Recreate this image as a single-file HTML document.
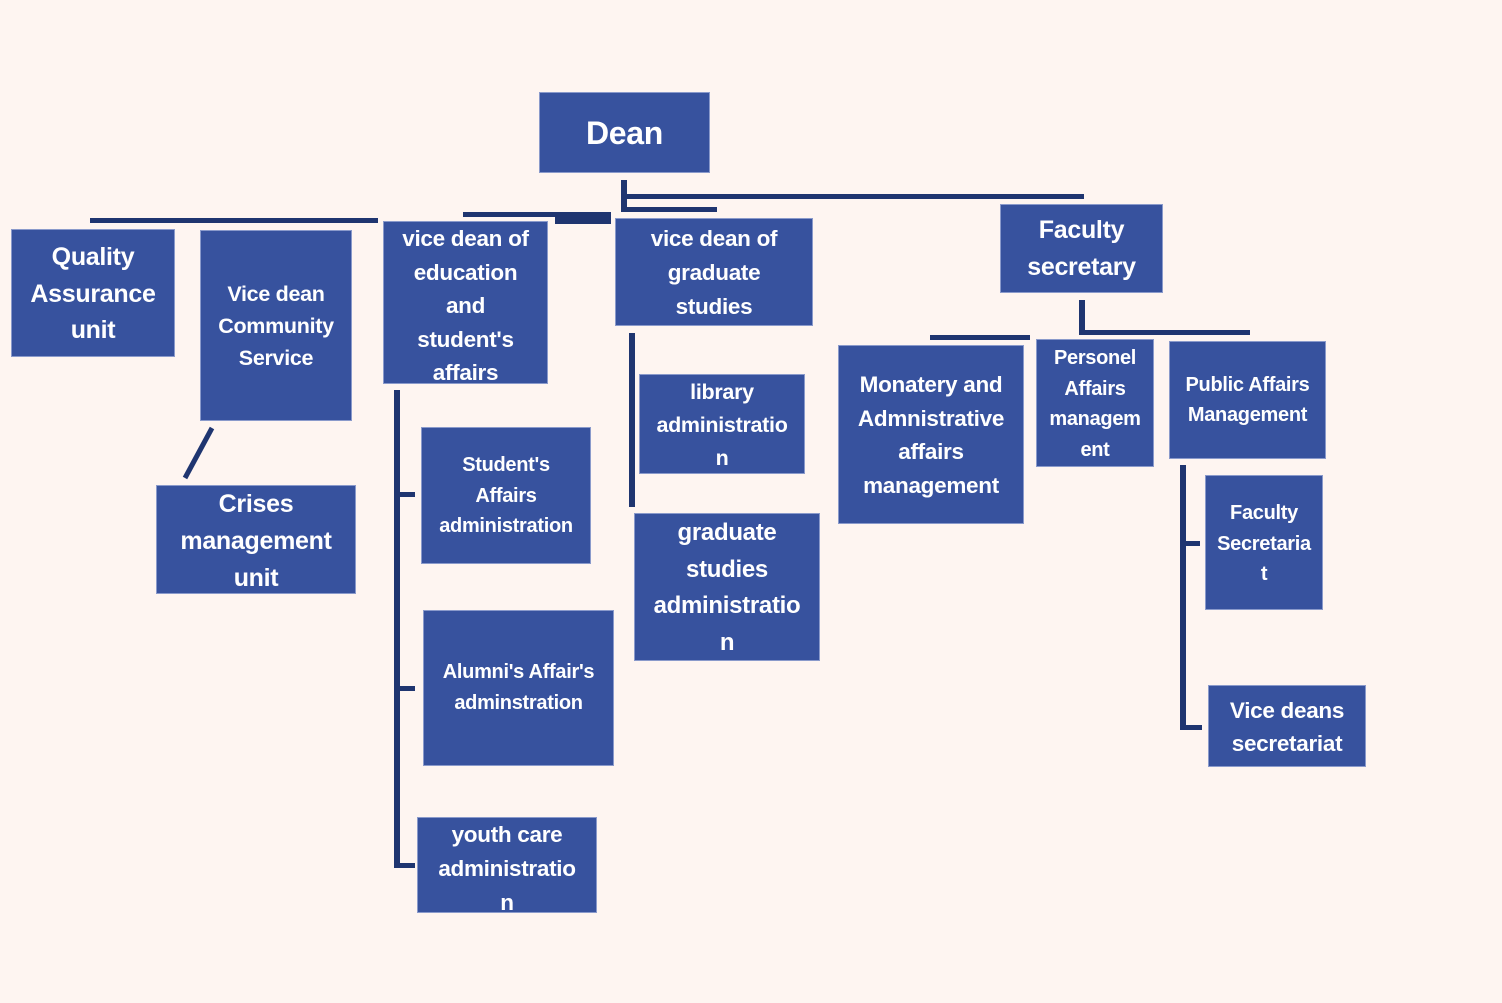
<!DOCTYPE html>
<html><head><meta charset="utf-8"><style>
html,body{margin:0;padding:0}
body{width:1502px;height:1003px;background:#fef5f1;position:relative;overflow:hidden;font-family:"Liberation Sans",sans-serif}
.b{position:absolute;background:#37529e;border:1px solid #8a9acb;box-sizing:border-box;color:#fff;font-weight:bold;text-align:center;white-space:nowrap;overflow:hidden;letter-spacing:-0.3px}
.l{position:absolute;background:#1f3570}
</style></head><body>
<!-- lines -->
<div class="l" style="left:621px;top:180px;width:6px;height:29px"></div>
<div class="l" style="left:621px;top:194px;width:463px;height:5px"></div>
<div class="l" style="left:621px;top:207px;width:96px;height:5px"></div>
<div class="l" style="left:463px;top:212px;width:148px;height:5px"></div>
<div class="l" style="left:555px;top:217px;width:56px;height:7px"></div>
<div class="l" style="left:90px;top:218px;width:288px;height:5px"></div>
<div class="l" style="left:1079px;top:300px;width:6px;height:32px"></div>
<div class="l" style="left:1079px;top:330px;width:171px;height:5px"></div>
<div class="l" style="left:930px;top:335px;width:100px;height:5px"></div>
<div class="l" style="left:394px;top:390px;width:6px;height:478px"></div>
<div class="l" style="left:394px;top:492px;width:21px;height:5px"></div>
<div class="l" style="left:394px;top:686px;width:21px;height:5px"></div>
<div class="l" style="left:394px;top:863px;width:21px;height:5px"></div>
<div class="l" style="left:629px;top:333px;width:6px;height:174px"></div>
<div class="l" style="left:1180px;top:465px;width:6px;height:265px"></div>
<div class="l" style="left:1180px;top:541px;width:20px;height:5px"></div>
<div class="l" style="left:1180px;top:725px;width:22px;height:5px"></div>
<svg style="position:absolute;left:0;top:0" width="1502" height="1003"><line x1="212" y1="428" x2="185" y2="478" stroke="#1f3570" stroke-width="5"/></svg>
<!-- boxes -->
<div class="b" style="left:539px;top:92px;width:171px;height:81px;font-size:32px;line-height:40px;padding-top:20px">Dean</div>
<div class="b" style="left:11px;top:229px;width:164px;height:128px;font-size:25px;line-height:36.5px;padding-top:9px">Quality<br>Assurance<br>unit</div>
<div class="b" style="left:200px;top:230px;width:152px;height:191px;font-size:21.5px;line-height:32px;padding-top:47px">Vice dean<br>Community<br>Service</div>
<div class="b" style="left:156px;top:485px;width:200px;height:109px;font-size:25px;line-height:37px;padding-top:0px">Crises<br>management<br>unit</div>
<div class="b" style="left:383px;top:221px;width:165px;height:163px;font-size:22.5px;line-height:33.5px;padding-top:0px">vice dean of<br>education<br>and<br>student's<br>affairs</div>
<div class="b" style="left:421px;top:427px;width:170px;height:137px;font-size:20px;line-height:30.5px;padding-top:22px">Student's<br>Affairs<br>administration</div>
<div class="b" style="left:423px;top:610px;width:191px;height:156px;font-size:20px;line-height:31px;padding-top:46px">Alumni's Affair's<br>adminstration</div>
<div class="b" style="left:417px;top:817px;width:180px;height:96px;font-size:22.5px;line-height:34px;padding-top:0px">youth care<br>administratio<br>n</div>
<div class="b" style="left:615px;top:218px;width:198px;height:108px;font-size:22.5px;line-height:34px;padding-top:3px">vice dean of<br>graduate<br>studies</div>
<div class="b" style="left:639px;top:374px;width:166px;height:100px;font-size:21.5px;line-height:33px;padding-top:1px">library<br>administratio<br>n</div>
<div class="b" style="left:634px;top:513px;width:186px;height:148px;font-size:24px;line-height:36.7px;padding-top:1px">graduate<br>studies<br>administratio<br>n</div>
<div class="b" style="left:1000px;top:204px;width:163px;height:89px;font-size:25px;line-height:37px;padding-top:7px">Faculty<br>secretary</div>
<div class="b" style="left:838px;top:345px;width:186px;height:179px;font-size:22.5px;line-height:33.7px;padding-top:22px">Monatery and<br>Admnistrative<br>affairs<br>management</div>
<div class="b" style="left:1036px;top:339px;width:118px;height:128px;font-size:20px;line-height:30.7px;padding-top:3px">Personel<br>Affairs<br>managem<br>ent</div>
<div class="b" style="left:1169px;top:341px;width:157px;height:118px;font-size:20px;line-height:30px;padding-top:28px">Public Affairs<br>Management</div>
<div class="b" style="left:1205px;top:475px;width:118px;height:135px;font-size:20px;line-height:30.5px;padding-top:22px">Faculty<br>Secretaria<br>t</div>
<div class="b" style="left:1208px;top:685px;width:158px;height:82px;font-size:22.5px;line-height:33px;padding-top:8px">Vice deans<br>secretariat</div>
</body></html>
